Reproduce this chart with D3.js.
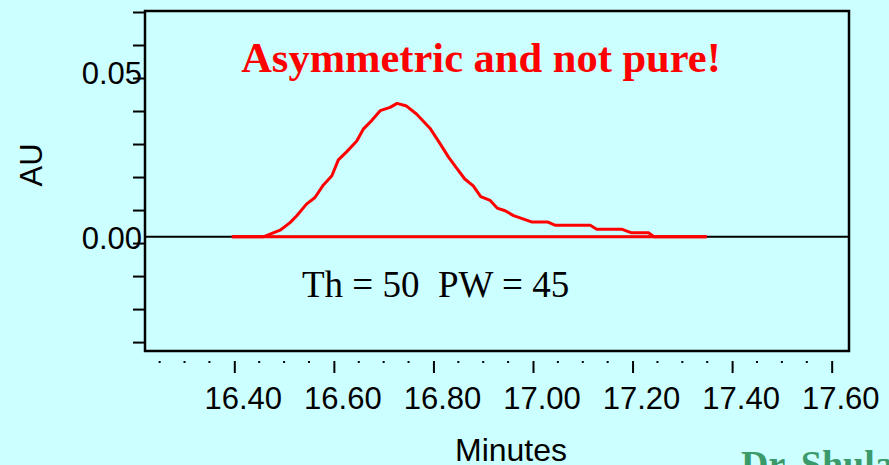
<!DOCTYPE html>
<html>
<head>
<meta charset="utf-8">
<script src="https://cdn.jsdelivr.net/npm/d3@7"></script>
<style>
  html, body { margin: 0; padding: 0; background: #ccffff; }
  svg { display: block; }
</style>
</head>
<body>
<div id="chart"></div>
<script>
// peak trace (minutes, AU)
const times = [16.395, 16.458, 16.472, 16.492, 16.512, 16.525, 16.545, 16.562, 16.579, 16.596,
  16.609, 16.626, 16.646, 16.659, 16.676, 16.693, 16.713, 16.727, 16.746, 16.766,
  16.793, 16.813, 16.830, 16.847, 16.863, 16.880, 16.895, 16.914, 16.928, 16.944,
  16.961, 16.977, 16.997, 17.029, 17.044, 17.115, 17.128, 17.178, 17.198, 17.232,
  17.243, 17.349];
const signal = [0.0019, 0.0019, 0.0027, 0.0039, 0.0062, 0.0082, 0.0118, 0.0138, 0.0176, 0.0204,
  0.0252, 0.0277, 0.0309, 0.0345, 0.0371, 0.0401, 0.0411, 0.0423, 0.0415, 0.0391,
  0.0348, 0.0302, 0.0261, 0.0226, 0.0194, 0.0173, 0.0141, 0.0129, 0.0106, 0.0098,
  0.0083, 0.0075, 0.0064, 0.0064, 0.0054, 0.0054, 0.0042, 0.0042, 0.0031, 0.0031,
  0.0019, 0.0019];

// integration baseline level
const baselineAU = 0.0019;

// axis ticks
const xMajor = [16.40, 16.60, 16.80, 17.00, 17.20, 17.40, 17.60];
const xMinor = [16.25, 16.30, 16.35, 16.45, 16.50, 16.55, 16.65, 16.70, 16.75, 16.85, 16.90, 16.95,
  17.05, 17.10, 17.15, 17.25, 17.30, 17.35, 17.45, 17.50, 17.55];
const yTicks = [-0.03, -0.02, -0.01, 0.00, 0.01, 0.02, 0.03, 0.04, 0.05, 0.06, 0.07];
const yLabeled = [0.00, 0.05];

const width = 889;
const height = 465;
const box = { left: 145, top: 11, right: 849, bottom: 351 };

const sans = "'Liberation Sans', Arial, sans-serif";
const serif = "'Liberation Serif', 'Times New Roman', serif";

const svg = d3.select("#chart").append("svg")
    .attr("width", width)
    .attr("height", height);

svg.append("rect")
    .attr("width", width)
    .attr("height", height)
    .attr("fill", "#ccffff");

const x = d3.scaleLinear()
    .domain([16.2206, 17.6348])
    .range([box.left, box.right]);

const y = d3.scaleLinear()
    .domain([-0.0327, 0.0703])
    .range([box.bottom, box.top]);

// y axis (ticks every 0.01, labels only on 0.00 and 0.05)
const yAxis = svg.append("g")
    .attr("transform", `translate(${box.left},0)`)
    .call(d3.axisLeft(y)
        .tickValues(yTicks)
        .tickSize(12)
        .tickFormat(d => yLabeled.some(v => Math.abs(v - d) < 1e-9) ? d3.format(".2f")(d) : ""));
yAxis.select(".domain").remove();
yAxis.selectAll(".tick line").attr("stroke", "#000").attr("stroke-width", 2);
yAxis.selectAll(".tick text")
    .attr("x", -3)
    .attr("dy", 5)
    .attr("fill", "#000")
    .style("font-family", sans)
    .style("font-size", "31px");

// x axis sits below the box, ticks hang down
const xAxis = svg.append("g")
    .attr("transform", `translate(0,361)`)
    .call(d3.axisBottom(x)
        .tickValues(xMajor)
        .tickSize(12)
        .tickFormat(d3.format(".2f")));
xAxis.select(".domain").remove();
xAxis.selectAll(".tick line").attr("stroke", "#000").attr("stroke-width", 2);
xAxis.selectAll(".tick text")
    .attr("y", 48)
    .attr("dy", null)
    .attr("dx", 8.5)
    .attr("fill", "#000")
    .style("font-family", sans)
    .style("font-size", "31px");

// minor ticks are just dots
svg.append("g").selectAll("rect")
    .data(xMinor)
    .join("rect")
    .attr("x", d => x(d) - 1)
    .attr("y", 361)
    .attr("width", 2)
    .attr("height", 2)
    .attr("fill", "#000");

// black zero line across the plot
svg.append("line")
    .attr("x1", box.left)
    .attr("x2", box.right)
    .attr("y1", y(baselineAU))
    .attr("y2", y(baselineAU))
    .attr("stroke", "#000")
    .attr("stroke-width", 2);

// red integration baseline under the peak
svg.append("line")
    .attr("x1", x(times[0]))
    .attr("x2", x(times[times.length - 1]))
    .attr("y1", y(baselineAU))
    .attr("y2", y(baselineAU))
    .attr("stroke", "#ff0000")
    .attr("stroke-width", 3);

// the peak
const line = d3.line()
    .x((d, i) => x(times[i]))
    .y(d => y(d));

svg.append("path")
    .datum(signal)
    .attr("d", line)
    .attr("fill", "none")
    .attr("stroke", "#ff0000")
    .attr("stroke-width", 3)
    .attr("stroke-linejoin", "round");

// frame
svg.append("rect")
    .attr("x", box.left)
    .attr("y", box.top)
    .attr("width", box.right - box.left)
    .attr("height", box.bottom - box.top)
    .attr("fill", "none")
    .attr("stroke", "#000")
    .attr("stroke-width", 2.5);

// texts
svg.append("text")
    .attr("x", 481)
    .attr("y", 71.5)
    .attr("text-anchor", "middle")
    .text("Asymmetric and not pure!")
    .style("font-family", serif)
    .style("font-weight", "bold")
    .style("font-size", "42.5px")
    .style("fill", "#ff0000");

svg.append("text")
    .attr("x", 302)
    .attr("y", 296.5)
    .text("Th = 50  PW = 45")
    .style("white-space", "pre")
    .style("font-family", serif)
    .style("font-size", "37px")
    .style("fill", "#000");

svg.append("text")
    .attr("transform", "translate(42,165) rotate(-90)")
    .attr("text-anchor", "middle")
    .text("AU")
    .style("font-family", sans)
    .style("font-size", "31px")
    .style("fill", "#000");

svg.append("text")
    .attr("x", 511)
    .attr("y", 461)
    .attr("text-anchor", "middle")
    .text("Minutes")
    .style("font-family", sans)
    .style("font-size", "32px")
    .style("fill", "#000");

svg.append("text")
    .attr("x", 741)
    .attr("y", 477)
    .text("Dr. Shulamit Levin")
    .style("font-family", serif)
    .style("font-weight", "bold")
    .style("font-size", "38px")
    .style("fill", "#3a9a6a");
</script>
</body>
</html>
